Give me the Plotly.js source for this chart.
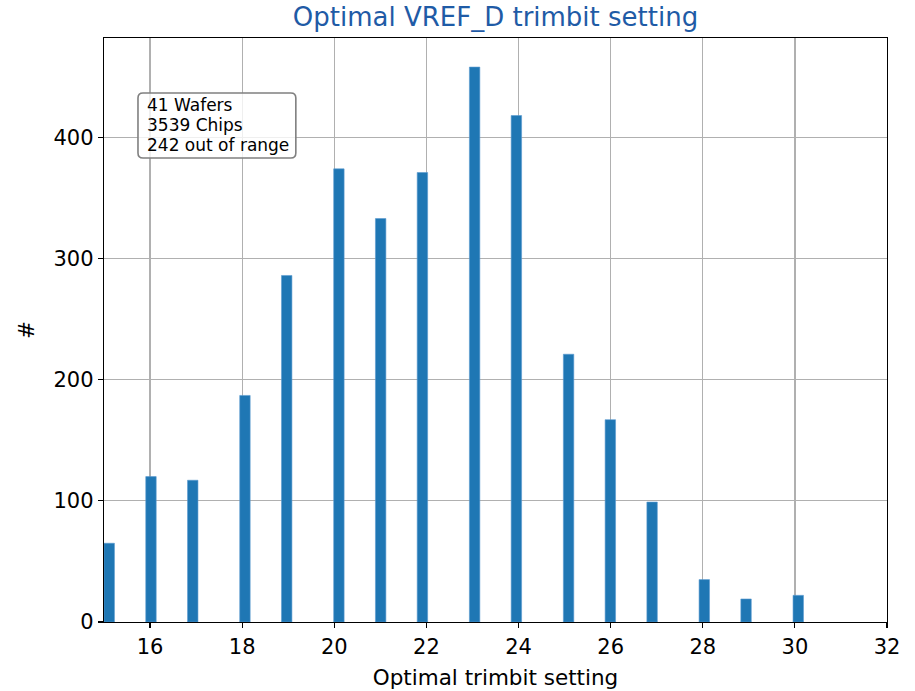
<!DOCTYPE html>
<html>
<head>
<meta charset="utf-8">
<script src="https://cdn.plot.ly/plotly-3.0.1.min.js"></script>
<style>html,body{margin:0;padding:0;background:#fff;}#chart{width:915px;height:691px;}</style>
</head>
<body>
<div id="chart"></div>
<script>
// Data
const trimbitSettings = [15, 16, 17, 18, 19, 20, 21, 22, 23, 24, 25, 26, 27, 28, 29, 30];
const chipCounts = [65, 120, 117, 187, 286, 374, 333, 371, 458, 418, 221, 167, 99, 35, 19, 22];
const xTicks = [16, 18, 20, 22, 24, 26, 28, 30, 32];
const yTicks = [0, 100, 200, 300, 400];
const infoLines = ["41 Wafers", "3539 Chips", "242 out of range"];

const font = "DejaVu Sans, sans-serif";

const trace = {
  type: "histogram",
  x: trimbitSettings,
  y: chipCounts,
  histfunc: "sum",
  autobinx: false,
  xbins: {start: 15, end: 32, size: 17 / 75},
  marker: {color: "#1f77b4", line: {color: "#5a9bd0", width: 0.6}},
  hoverinfo: "x+y"
};

// info box (paper coordinates), rounded corners
const bx0 = 0.0434, bx1 = 0.245, by0 = 0.7945, by1 = 0.9058;
const rx = 0.0064, ry = 0.0086;
const boxPath = `M ${bx0 + rx} ${by1} L ${bx1 - rx} ${by1} Q ${bx1} ${by1} ${bx1} ${by1 - ry} ` +
  `L ${bx1} ${by0 + ry} Q ${bx1} ${by0} ${bx1 - rx} ${by0} L ${bx0 + rx} ${by0} Q ${bx0} ${by0} ${bx0} ${by0 + ry} ` +
  `L ${bx0} ${by1 - ry} Q ${bx0} ${by1} ${bx0 + rx} ${by1} Z`;

const lineY = [0.8853, 0.851, 0.8168];
const infoAnnotations = infoLines.map((t, i) => ({
  xref: "paper", yref: "paper", x: 0.0524, y: lineY[i], xanchor: "left", yanchor: "middle",
  text: t, align: "left", showarrow: false,
  font: {family: font, size: 17, color: "#000"}
}));

const layout = {
  width: 915, height: 691,
  margin: {l: 104, r: 28, t: 38, b: 69},
  paper_bgcolor: "#fff", plot_bgcolor: "#fff",
  showlegend: false,
  bargap: 0,
  title: {text: "Optimal VREF_D trimbit setting", font: {family: font, size: 26, color: "#1f5ba6"}, xref: "paper", x: 0.5, xanchor: "center", y: 0.975, yanchor: "middle"},
  xaxis: {
    range: [15, 32], tickvals: xTicks, ticktext: xTicks.map(String),
    showgrid: true, gridcolor: "#b0b0b0", gridwidth: 1.3,
    showline: true, linecolor: "#000", linewidth: 1.3, mirror: true,
    ticks: "outside", ticklen: 5, tickwidth: 1.2, tickcolor: "#000",
    tickfont: {family: font, size: 21, color: "#000"},
    zeroline: false,
    title: {text: "Optimal trimbit setting", font: {family: font, size: 21.5, color: "#000"}, standoff: 12}
  },
  yaxis: {
    range: [0, 482], tickvals: yTicks, ticktext: yTicks.map(String),
    showgrid: true, gridcolor: "#b0b0b0", gridwidth: 1.3,
    showline: true, linecolor: "#000", linewidth: 1.3, mirror: true,
    ticks: "outside", ticklen: 5, tickwidth: 1.2, tickcolor: "#000",
    tickfont: {family: font, size: 21, color: "#000"},
    zeroline: false,
    title: {text: "#", font: {family: font, size: 21.5, color: "#000"}, standoff: 13}
  },
  shapes: [{
    type: "path", xref: "paper", yref: "paper", path: boxPath,
    fillcolor: "rgba(255,255,255,0.8)", line: {color: "#808080", width: 1.6}, layer: "above"
  }],
  annotations: infoAnnotations
};

Plotly.newPlot("chart", [trace], layout, {displayModeBar: false, staticPlot: true});
</script>
</body>
</html>
